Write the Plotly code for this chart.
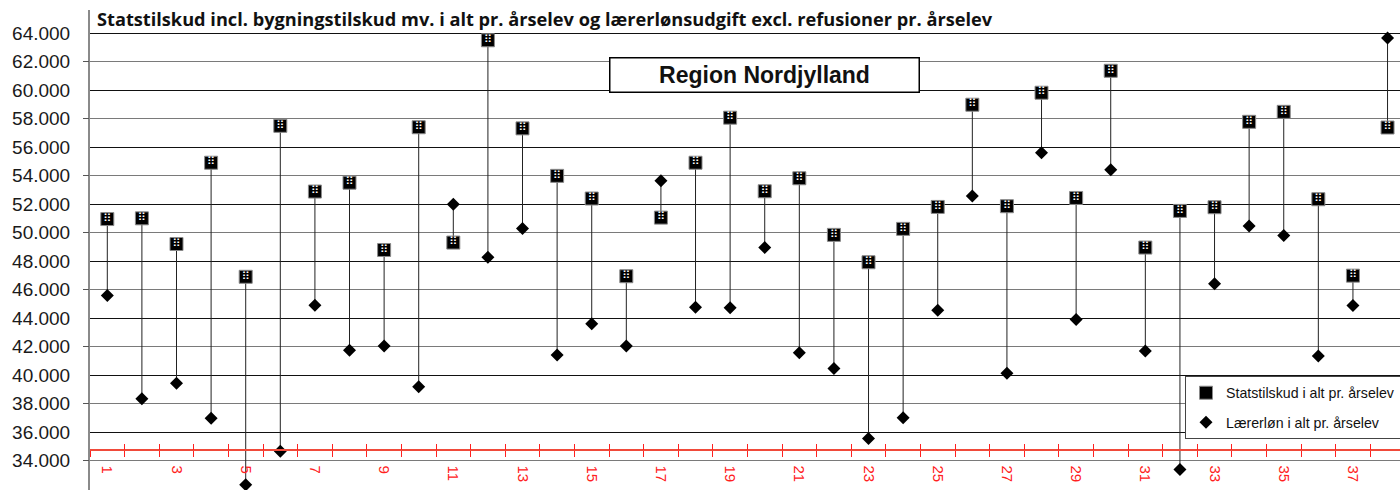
import plotly.graph_objects as go

categories = list(range(1, 39))
statstilskud = [50950, 51000, 49200, 54900, 46900, 57490, 52880, 53500, 48780, 57390,
                49300, 63490, 57310, 53980, 52390, 46940, 51050, 54900, 58060, 52900,
                53810, 49840, 47920, 50260, 51800, 58970, 51850, 59810, 52430, 61350,
                48950, 51520, 51780, 57770, 58470, 52340, 46980, 57370]
laererloen = [45580, 38350, 39430, 36970, 32310, 34660, 44900, 41750, 42050, 39190,
              51990, 48270, 50280, 41420, 43600, 42050, 53630, 44760, 44720, 48950,
              41580, 40460, 35550, 37020, 44550, 52570, 40130, 55600, 43900, 54400,
              41700, 33390, 46420, 50470, 49790, 41350, 44880, 63650]
x_label_vals = categories[::2]
x_label_text = [str(c) for c in x_label_vals]
y_tick_vals = list(range(32000, 66000, 2000))
y_black_vals = list(range(32000, 66000, 4000))
y_gray_vals = list(range(34000, 66000, 4000))
boundaries = [c - 0.5 for c in categories] + [categories[-1] + 0.5]

title_text = "Statstilskud incl. bygningstilskud mv. i alt pr. årselev og lærerlønsudgift excl. refusioner pr. årselev"
region_text = "Region Nordjylland"
name_stat = "Statstilskud i alt pr. årselev"
name_laer = "Lærerløn i alt pr. årselev"

Y_RANGE = [31944, 65614]
X_RANGE = [0.5, 38.36]
AXIS_POS = (34772 - Y_RANGE[0]) / (Y_RANGE[1] - Y_RANGE[0])

# connecting high-low lines
lx, ly = [], []
for c, s, l in zip(categories, statstilskud, laererloen):
    lx += [c, c, None]
    ly += [s, l, None]

fig = go.Figure()
fig.add_trace(go.Scatter(x=lx, y=ly, mode="lines", line=dict(color="#222222", width=1),
                         showlegend=False, hoverinfo="skip", xaxis="x", yaxis="y"))
fig.add_trace(go.Scatter(x=categories, y=laererloen, mode="markers", name=name_laer,
                         marker=dict(symbol="diamond", size=10, color="black"),
                         xaxis="x2", yaxis="y2", legendrank=2, legendgroup="b"))
fig.add_trace(go.Scatter(x=categories, y=statstilskud, mode="markers", name=name_stat,
                         marker=dict(symbol="square", size=13, color="black",
                                     line=dict(color="#8a8a8a", width=1)),
                         xaxis="x3", yaxis="y3", legendrank=1, legendgroup="a"))
fig.add_trace(go.Scatter(x=categories, y=statstilskud, mode="text", text=["⠿"] * len(categories),
                         textfont=dict(color="white", size=11, family="DejaVu Sans"),
                         textposition="middle center", showlegend=False, hoverinfo="skip",
                         xaxis="x3", yaxis="y3"))

red = "#ff2020"
common_x = dict(range=X_RANGE, anchor="free", position=AXIS_POS, showgrid=False, zeroline=False)
fig.update_layout(
    width=1400, height=490,
    margin=dict(l=90, r=0, t=10, b=0, autoexpand=False),
    paper_bgcolor="white", plot_bgcolor="white",
    separators=",.",
    xaxis=dict(**common_x, tickmode="array", tickvals=x_label_vals, ticktext=x_label_text,
               ticks="", showline=True, linecolor="#f04a3a", linewidth=1.5, tickangle=90,
               tickfont=dict(color=red, size=15, family="Liberation Sans"), ticklabelstandoff=12),
    xaxis2=dict(**common_x, overlaying="x", matches="x", tickmode="array", tickvals=boundaries,
                ticks="outside", ticklen=6, tickcolor=red, tickwidth=1, showticklabels=False,
                showline=False),
    xaxis3=dict(**common_x, overlaying="x", matches="x", tickmode="array", tickvals=boundaries,
                ticks="inside", ticklen=6, tickcolor=red, tickwidth=1, showticklabels=False,
                showline=False),
    yaxis=dict(range=Y_RANGE, tickmode="array", tickvals=y_tick_vals, tickformat=",d",
               showgrid=False, zeroline=False, ticks="", showline=True, linecolor="#8a8a8a",
               linewidth=2, tickfont=dict(size=19, color="#1a1a1a", family="Liberation Sans"),
               ticklabelstandoff=14, anchor="x"),
    yaxis2=dict(range=Y_RANGE, matches="y", overlaying="y", anchor="x", tickmode="array",
                tickvals=y_gray_vals, showgrid=True, gridcolor="#7a7a7a", gridwidth=1,
                ticks="outside", ticklen=6, tickcolor="#555555", showticklabels=False,
                zeroline=False, showline=False),
    yaxis3=dict(range=Y_RANGE, matches="y", overlaying="y", anchor="x", tickmode="array",
                tickvals=y_black_vals, showgrid=True, gridcolor="#111111", gridwidth=1,
                ticks="", showticklabels=False, zeroline=False, showline=False),
    legend=dict(x=(1185 - 90) / 1310, y=(490 - 376) / 480, xanchor="left", yanchor="top",
                bgcolor="white", bordercolor="#444444", borderwidth=1,
                font=dict(size=14.2, color="#111111", family="Liberation Sans"),
                traceorder="grouped", tracegroupgap=8),
    showlegend=True,
    annotations=[
        dict(text="<b>" + title_text + "</b>", xref="paper", yref="paper",
             x=(95 - 90) / 1310, y=(490 - 19) / 480, xanchor="left", yanchor="middle",
             showarrow=False, font=dict(size=18.2, color="#111111", family="Open Sans")),
        dict(text="<b>" + region_text + "</b>", xref="paper", yref="paper",
             x=(764 - 90) / 1310, y=(490 - 74.5) / 480, xanchor="center", yanchor="middle",
             showarrow=False, width=306, height=31, bgcolor="white", bordercolor="black",
             borderwidth=1.5, borderpad=1,
             font=dict(size=23, color="#111111", family="Liberation Sans")),
    ],
)

fig.write_html("out.html", config={"displayModeBar": False},
               post_script="document.body.style.margin='0';document.body.style.overflow='hidden';")
